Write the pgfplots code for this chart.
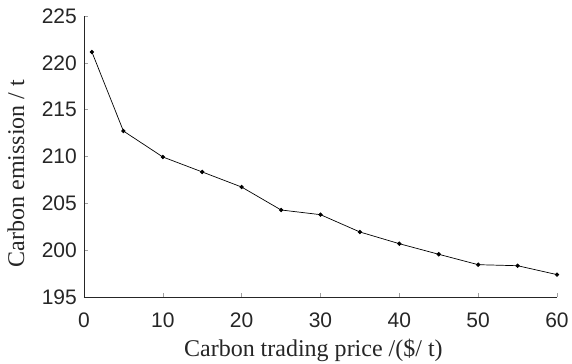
\documentclass[border=0pt]{standalone}
\usepackage{fontspec}
\setmainfont{Liberation Serif}
\newfontfamily\ticksans{Liberation Sans}
\usepackage{pgfplots}
\pgfplotsset{compat=1.18}
\definecolor{axisgray}{HTML}{262626}
\definecolor{tickgray}{HTML}{A0A0A0}

\pgfplotstableread{
price emission
1   221.16
5   212.72
10  209.95
15  208.35
20  206.74
25  204.29
30  203.79
35  201.94
40  200.69
45  199.56
50  198.45
55  198.34
60  197.39
}\emissiondata

\begin{document}
\begin{tikzpicture}
\begin{axis}[
  at={(0,0)}, anchor=south west,
  scale only axis,
  width=473bp, height=281bp,
  xmin=0, xmax=60, ymin=195, ymax=225,
  xtick={0,10,...,60},
  ytick={195,200,...,225},
  axis x line*=bottom,
  axis y line*=left,
  axis line style={-, axisgray, line width=0.8bp},
  tick align=inside,
  major tick length=4bp,
  tick style={tickgray, line width=0.6bp},
  /pgf/number format/assume math mode=true,
  ticklabel style={font=\ticksans\fontsize{21bp}{25bp}\selectfont, text=axisgray},
  xticklabel style={anchor=base, yshift=-30bp, inner sep=0pt},
  yticklabel style={anchor=east, inner sep=0pt, xshift=-7bp},
  label style={font=\fontsize{24bp}{28bp}\selectfont, text=axisgray},
  xlabel={Carbon trading price /(\$/ t)},
  ylabel={Carbon emission / t},
  xlabel style={at={(axis description cs:0.485,-0.2135)}, anchor=base, inner sep=0pt},
  ylabel style={at={(axis description cs:-0.1438,0.44)}, anchor=center, inner sep=0pt},
]
\addplot[black, line width=0.7bp, mark=*, mark size=1.8bp]
  table[x=price, y=emission] {\emissiondata};
\end{axis}
\pgfresetboundingbox
\path[use as bounding box] (-84bp,-67bp) rectangle (488bp,297bp);
\end{tikzpicture}
\end{document}
